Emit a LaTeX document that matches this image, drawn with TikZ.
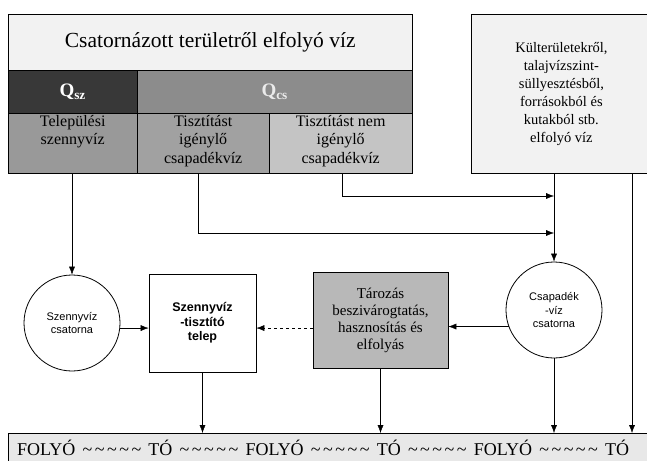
\documentclass[tikz,border=0pt]{standalone}
\usepackage{fontspec}
\setmainfont{Liberation Serif}
\setsansfont{Liberation Sans}
\usetikzlibrary{arrows.meta}
\definecolor{titlegray}{gray}{0.95}
\definecolor{qszgray}{gray}{0.22}
\definecolor{qcsgray}{gray}{0.55}
\definecolor{telgray}{gray}{0.6}
\definecolor{tiggray}{gray}{0.63}
\definecolor{tnemgray}{gray}{0.77}
\definecolor{kulgray}{gray}{0.95}
\definecolor{tarogray}{gray}{0.72}
\definecolor{bargray}{gray}{0.91}
\newcommand{\hullam}{\hfil\textasciitilde\hspace{2.5pt}\textasciitilde\hspace{2.5pt}\textasciitilde\hspace{2.5pt}\textasciitilde\hspace{2.5pt}\textasciitilde\hfil}

\begin{document}
\begin{tikzpicture}[x=1pt,y=-1pt,
  cell/.style={draw,rectangle,inner sep=0pt,anchor=north west},
  cellfont/.style={font=\fontsize{16}{18.5}\selectfont,align=center,inner sep=2pt},
  qfont/.style={font=\fontsize{19}{22}\selectfont\bfseries},
  ring/.style={circle,thick,draw,fill=white,minimum size=96pt,inner sep=0pt,
    align=center,font=\sffamily\fontsize{11}{13.5}\selectfont},
  plant/.style={rectangle,thick,draw,inner sep=0pt,align=center},
  arr/.style={-{Latex[length=8pt,width=6pt]}},
  dasharr/.style={arr,dashed}]
\useasboundingbox (0,0) rectangle (647,460);
\clip (0,0) rectangle (647,460);

\node[cell,fill=titlegray,minimum width=404pt,minimum height=56pt,
  font=\fontsize{21.5}{24}\selectfont] (title) at (8,14) {Csatornázott területről elfolyó víz};
\node[cell,fill=qszgray,minimum width=129pt,minimum height=43pt,qfont,text=white] (qsz) at (8,70) {Q\textsubscript{sz}};
\node[cell,fill=qcsgray,minimum width=275pt,minimum height=43pt,qfont,text=white!92!black] (qcs) at (137,70) {Q\textsubscript{cs}};
\node[cell,fill=telgray,minimum width=129pt,minimum height=60pt,
  label={[cellfont,anchor=north]north:{Települési\\szennyvíz}}] (tel) at (8,113) {};
\node[cell,fill=tiggray,minimum width=132pt,minimum height=60pt,
  label={[cellfont,anchor=north]north:{Tisztítást\\igénylő\\csapadékvíz}}] (tig) at (137,113) {};
\node[cell,fill=tnemgray,minimum width=143pt,minimum height=60pt,
  label={[cellfont,anchor=north]north:{Tisztítást nem\\igénylő\\csapadékvíz}}] (tnem) at (269,113) {};
\draw[thick] (title.north west) rectangle (tnem.south east);

\node[cell,thick,fill=kulgray,minimum width=180pt,minimum height=159pt,
  cellfont,font=\fontsize{14.5}{18}\selectfont] (kul) at (471,14)
  {Külterületekről,\\talajvízszint-\\süllyesztésből,\\forrásokból és\\kutakból stb.\\elfolyó víz};

\node[ring] (szcs) at (72,323) {Szennyvíz\\csatorna};
\node[plant,minimum width=107pt,minimum height=98pt,
  font=\sffamily\bfseries\fontsize{12.5}{14.5}\selectfont] (szt) at (202.5,323) {Szennyvíz\\-tisztító\\telep};
\node[plant,fill=tarogray,minimum width=135pt,minimum height=96pt,
  font=\fontsize{15}{17}\selectfont] (taro) at (380.5,320) {Tározás\\beszivárogtatás,\\hasznosítás és\\elfolyás};
\node[ring] (csap) at (554,310) {Csapadék\\-víz\\csatorna};

\node[cell,fill=bargray,minimum width=645pt,minimum height=30pt,
  label={[anchor=west,inner sep=9pt,font=\fontsize{18}{20}\selectfont]west:{\hbox to 612pt{FOLYÓ\hullam TÓ\hullam FOLYÓ\hullam TÓ\hullam FOLYÓ\hullam TÓ}}}] (folyo) at (8,433) {};

\coordinate (tigdrop) at (198,233);
\coordinate (tnemdrop) at (342,196);
\coordinate (rdrop) at (632,173);

\draw[arr] (tel.south -| szcs.north) -- (szcs.north);
\draw[arr] (tigdrop |- tig.south) |- (tigdrop -| csap.north);
\draw[arr] (tnemdrop |- tnem.south) |- (tnemdrop -| csap.north);
\draw[arr] (csap.north |- kul.south) -- (csap.north);
\draw[arr] (szcs.-6) -- (szcs.-6 -| szt.west);
\draw[dasharr] (szcs.-6 -| taro.west) -- (szcs.-6 -| szt.east);
\draw[arr] (csap.200) -- (csap.200 -| taro.east);
\draw[arr] (szt.south) -- (szt.south |- folyo.north);
\draw[arr] (taro.south) -- (taro.south |- folyo.north);
\draw[arr] (csap.south) -- (csap.south |- folyo.north);
\draw[arr] (rdrop) -- (rdrop |- folyo.north);
\end{tikzpicture}
\end{document}
